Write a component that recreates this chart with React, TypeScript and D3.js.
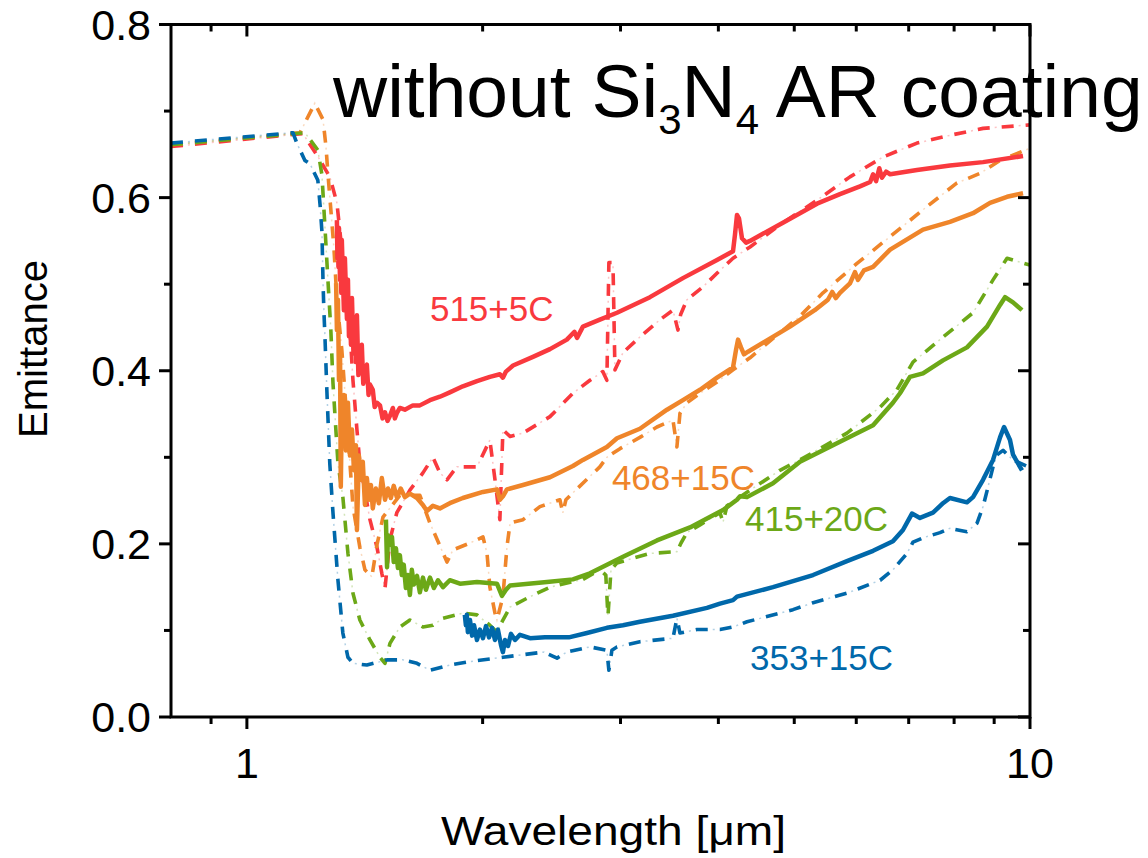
import React from "react";
import * as d3 from "d3";

type P = [number, number];

// ---- data (wavelength µm, emittance) ----
const redSim: P[] = [
  [0.8, 0.659], [1.179, 0.674], [1.229, 0.649], [1.276, 0.624], [1.303, 0.594], [1.322, 0.54],
  [1.342, 0.482], [1.354, 0.447], [1.366, 0.389], [1.382, 0.332], [1.394, 0.293], [1.436, 0.228],
  [1.466, 0.196], [1.487, 0.166], [1.501, 0.149], [1.523, 0.205], [1.554, 0.236], [1.615, 0.262],
  [1.678, 0.282], [1.728, 0.3], [1.764, 0.282], [1.801, 0.274], [1.854, 0.289], [1.967, 0.289],
  [2.043, 0.32], [2.074, 0.274], [2.104, 0.228], [2.123, 0.332], [2.168, 0.324], [2.252, 0.328],
  [2.438, 0.347], [2.608, 0.374], [2.742, 0.389], [2.848, 0.399], [2.882, 0.389], [2.899, 0.525],
  [2.934, 0.525], [2.951, 0.401], [3.022, 0.421], [3.176, 0.439], [3.369, 0.459], [3.5, 0.47],
  [3.552, 0.447], [3.58, 0.465], [3.647, 0.482], [3.823, 0.497], [4.019, 0.516], [4.176, 0.53],
  [4.39, 0.543], [4.836, 0.571], [5.346, 0.597], [5.89, 0.624], [6.493, 0.647], [7.173, 0.663],
  [7.903, 0.672], [8.71, 0.68], [10, 0.684],
];
const redMeas: P[] = [
  [1.303, 0.574], [1.305, 0.53], [1.307, 0.545], [1.309, 0.52], [1.311, 0.565], [1.315, 0.505],
  [1.318, 0.526], [1.32, 0.49], [1.322, 0.551], [1.326, 0.511], [1.33, 0.47], [1.334, 0.53],
  [1.338, 0.493], [1.342, 0.46], [1.346, 0.505], [1.35, 0.44], [1.354, 0.474], [1.358, 0.43],
  [1.362, 0.484], [1.368, 0.42], [1.374, 0.453], [1.378, 0.41], [1.382, 0.464], [1.388, 0.395],
  [1.394, 0.418], [1.402, 0.43], [1.408, 0.385], [1.415, 0.401], [1.423, 0.407], [1.43, 0.372],
  [1.436, 0.384], [1.448, 0.378], [1.456, 0.358], [1.466, 0.363], [1.479, 0.36], [1.49, 0.345],
  [1.501, 0.352], [1.512, 0.342], [1.523, 0.348], [1.536, 0.357], [1.545, 0.345], [1.554, 0.351],
  [1.568, 0.357], [1.591, 0.355], [1.629, 0.36], [1.663, 0.36], [1.713, 0.366], [1.764, 0.37],
  [1.816, 0.375], [1.887, 0.382], [1.967, 0.388], [2.043, 0.393], [2.104, 0.396], [2.123, 0.392],
  [2.142, 0.399], [2.187, 0.406], [2.319, 0.416], [2.438, 0.425], [2.562, 0.436], [2.62, 0.445],
  [2.64, 0.438], [2.686, 0.451], [2.823, 0.459], [2.969, 0.467], [3.271, 0.485], [3.604, 0.507],
  [3.984, 0.528], [4.176, 0.538], [4.2, 0.557], [4.225, 0.58], [4.25, 0.576], [4.288, 0.553],
  [4.34, 0.548], [4.39, 0.55], [4.836, 0.571], [5.346, 0.593], [5.719, 0.604], [6.066, 0.613],
  [6.25, 0.618], [6.304, 0.627], [6.36, 0.619], [6.42, 0.634], [6.47, 0.623], [6.55, 0.63],
  [6.628, 0.627], [7.173, 0.632], [7.903, 0.637], [8.71, 0.641], [9.797, 0.648],
];

const orangeSim: P[] = [
  [0.8, 0.661], [1.169, 0.675], [1.221, 0.709], [1.251, 0.69], [1.262, 0.658], [1.269, 0.628],
  [1.276, 0.601], [1.284, 0.571], [1.292, 0.54], [1.303, 0.482], [1.322, 0.424], [1.342, 0.343],
  [1.366, 0.243], [1.394, 0.196], [1.415, 0.17], [1.444, 0.162], [1.466, 0.199], [1.492, 0.231],
  [1.568, 0.256], [1.663, 0.256], [1.713, 0.224], [1.801, 0.179], [1.833, 0.193], [1.927, 0.201],
  [2.002, 0.208], [2.026, 0.189], [2.043, 0.15], [2.074, 0.12], [2.086, 0.112], [2.123, 0.139],
  [2.148, 0.196], [2.168, 0.224], [2.252, 0.228], [2.367, 0.243], [2.51, 0.251], [2.532, 0.236],
  [2.555, 0.251], [2.608, 0.259], [2.823, 0.289], [2.882, 0.3], [2.995, 0.31], [3.176, 0.323],
  [3.339, 0.335], [3.5, 0.343], [3.541, 0.312], [3.573, 0.351], [3.647, 0.363], [3.79, 0.374],
  [3.984, 0.387], [4.176, 0.401], [4.39, 0.415], [4.794, 0.444], [5.085, 0.463], [5.441, 0.49],
  [6.013, 0.524], [6.628, 0.555], [7.301, 0.586], [8.068, 0.617], [8.634, 0.628], [9.157, 0.643],
  [10, 0.657],
];
const orangeMeas: P[] = [
  [1.3, 0.501], [1.303, 0.447], [1.307, 0.482], [1.311, 0.389], [1.315, 0.424], [1.318, 0.266],
  [1.322, 0.355], [1.326, 0.32], [1.33, 0.372], [1.338, 0.308], [1.346, 0.363], [1.354, 0.302],
  [1.362, 0.332], [1.37, 0.285], [1.378, 0.314], [1.382, 0.216], [1.39, 0.302], [1.398, 0.274],
  [1.406, 0.295], [1.415, 0.245], [1.423, 0.276], [1.432, 0.251], [1.44, 0.268], [1.448, 0.241],
  [1.461, 0.264], [1.474, 0.247], [1.487, 0.276], [1.501, 0.251], [1.514, 0.264], [1.527, 0.253],
  [1.54, 0.267], [1.554, 0.254], [1.572, 0.264], [1.591, 0.254], [1.615, 0.258], [1.649, 0.253],
  [1.678, 0.245], [1.698, 0.238], [1.728, 0.244], [1.764, 0.241], [1.816, 0.247], [1.887, 0.253],
  [2.002, 0.26], [2.086, 0.263], [2.104, 0.251], [2.123, 0.255], [2.148, 0.263], [2.252, 0.268],
  [2.438, 0.277], [2.608, 0.29], [2.686, 0.297], [2.882, 0.312], [2.969, 0.322], [3.176, 0.333],
  [3.439, 0.355], [3.604, 0.366], [3.79, 0.378], [3.984, 0.392], [4.176, 0.404], [4.213, 0.424],
  [4.238, 0.436], [4.275, 0.427], [4.313, 0.419], [4.364, 0.422], [4.937, 0.451], [5.31, 0.47],
  [5.52, 0.482], [5.59, 0.491], [5.65, 0.484], [5.719, 0.49], [5.89, 0.501], [5.977, 0.514],
  [6.03, 0.505], [6.137, 0.516], [6.304, 0.52], [6.628, 0.54], [7.301, 0.563], [7.903, 0.572],
  [8.458, 0.582], [8.891, 0.594], [9.347, 0.601], [9.797, 0.605],
];

const greenSim: P[] = [
  [0.8, 0.661], [1.186, 0.675], [1.232, 0.655], [1.247, 0.626], [1.258, 0.566], [1.269, 0.505],
  [1.28, 0.447], [1.288, 0.386], [1.307, 0.293], [1.326, 0.254], [1.346, 0.189], [1.366, 0.143],
  [1.394, 0.112], [1.436, 0.089], [1.479, 0.069], [1.501, 0.062], [1.523, 0.085], [1.568, 0.104],
  [1.615, 0.112], [1.678, 0.104], [1.728, 0.106], [1.78, 0.114], [1.887, 0.12], [1.967, 0.118],
  [2.043, 0.106], [2.086, 0.098], [2.123, 0.112], [2.168, 0.127], [2.299, 0.139], [2.438, 0.15],
  [2.686, 0.159], [2.823, 0.17], [2.873, 0.164], [2.891, 0.116], [2.917, 0.17], [2.969, 0.178],
  [3.271, 0.189], [3.541, 0.191], [3.584, 0.201], [3.647, 0.213], [3.79, 0.222], [4.019, 0.236],
  [4.055, 0.225], [4.103, 0.244], [4.39, 0.262], [4.794, 0.285], [5.085, 0.297], [5.838, 0.328],
  [6.436, 0.358], [6.762, 0.378], [7.089, 0.41], [7.675, 0.436], [8.458, 0.467], [8.97, 0.505],
  [9.347, 0.53], [10, 0.522],
];
const greenMeas: P[] = [
  [1.505, 0.228], [1.51, 0.173], [1.514, 0.21], [1.523, 0.199], [1.532, 0.208], [1.54, 0.179],
  [1.55, 0.195], [1.559, 0.172], [1.568, 0.187], [1.577, 0.164], [1.586, 0.176], [1.596, 0.149],
  [1.605, 0.164], [1.615, 0.141], [1.624, 0.17], [1.634, 0.153], [1.649, 0.163], [1.663, 0.144],
  [1.678, 0.161], [1.693, 0.147], [1.713, 0.161], [1.733, 0.149], [1.754, 0.158], [1.78, 0.15],
  [1.816, 0.158], [1.871, 0.154], [1.967, 0.156], [2.086, 0.154], [2.117, 0.14], [2.142, 0.147],
  [2.168, 0.152], [2.416, 0.156], [2.608, 0.159], [2.742, 0.166], [3.022, 0.185], [3.339, 0.204],
  [3.68, 0.219], [4.055, 0.239], [4.225, 0.251], [4.263, 0.255], [4.351, 0.254], [4.697, 0.27],
  [5.085, 0.295], [5.838, 0.322], [6.304, 0.337], [6.683, 0.363], [6.823, 0.374], [7.026, 0.393],
  [7.301, 0.397], [7.743, 0.412], [8.309, 0.427], [8.813, 0.451], [9.157, 0.476], [9.292, 0.485],
  [9.513, 0.479], [9.768, 0.47],
];

const blueSim: P[] = [
  [0.8, 0.663], [1.145, 0.675], [1.158, 0.663], [1.186, 0.643], [1.204, 0.639], [1.232, 0.62],
  [1.24, 0.592], [1.247, 0.56], [1.251, 0.501], [1.254, 0.47], [1.258, 0.439], [1.265, 0.378],
  [1.276, 0.293], [1.288, 0.236], [1.307, 0.158], [1.326, 0.097], [1.346, 0.069], [1.366, 0.062],
  [1.423, 0.06], [1.51, 0.066], [1.582, 0.066], [1.649, 0.062], [1.713, 0.054], [1.816, 0.06],
  [1.927, 0.064], [2.123, 0.069], [2.252, 0.072], [2.395, 0.075], [2.489, 0.068], [2.562, 0.075],
  [2.742, 0.081], [2.882, 0.077], [2.899, 0.054], [2.925, 0.077], [2.969, 0.081], [3.176, 0.087],
  [3.5, 0.091], [3.541, 0.114], [3.573, 0.097], [3.756, 0.101], [4.019, 0.101], [4.176, 0.104],
  [4.351, 0.11], [4.614, 0.116], [4.981, 0.124], [5.284, 0.132], [5.838, 0.143], [6.436, 0.158],
  [6.683, 0.17], [6.965, 0.189], [7.089, 0.202], [7.301, 0.207], [7.675, 0.213], [7.903, 0.218],
  [8.309, 0.214], [8.558, 0.224], [8.71, 0.243], [8.84, 0.266], [8.97, 0.289], [9.077, 0.303],
  [9.238, 0.308], [9.513, 0.297], [10, 0.288],
];
const blueMeas: P[] = [
  [1.898, 0.118], [1.904, 0.106], [1.909, 0.118], [1.915, 0.098], [1.927, 0.112], [1.939, 0.094],
  [1.95, 0.106], [1.967, 0.089], [1.984, 0.101], [2.002, 0.091], [2.02, 0.105], [2.038, 0.092],
  [2.056, 0.103], [2.074, 0.089], [2.092, 0.101], [2.111, 0.083], [2.123, 0.075], [2.136, 0.089],
  [2.155, 0.082], [2.174, 0.096], [2.2, 0.089], [2.232, 0.095], [2.299, 0.091], [2.402, 0.092],
  [2.577, 0.092], [2.718, 0.097], [2.882, 0.103], [3.022, 0.106], [3.176, 0.11], [3.5, 0.117],
  [3.868, 0.126], [4.019, 0.131], [4.176, 0.135], [4.225, 0.139], [4.697, 0.15], [5.284, 0.164],
  [5.838, 0.18], [6.304, 0.192], [6.683, 0.203], [6.883, 0.216], [7.068, 0.235], [7.236, 0.23],
  [7.518, 0.236], [7.743, 0.247], [7.903, 0.253], [8.309, 0.248], [8.458, 0.254], [8.71, 0.274],
  [8.97, 0.297], [9.157, 0.323], [9.265, 0.335], [9.429, 0.32], [9.513, 0.303], [9.768, 0.285],
];

const xMajorTicks = [1, 10];
const xMinorTicks = [0.9, 2, 3, 4, 5, 6, 7, 8, 9];
const yMajorTicks = [0, 0.2, 0.4, 0.6, 0.8];
const yMinorTicks = [0.1, 0.3, 0.5, 0.7];

const labels = [
  { text: "515+5C", color: "#F9393E", x: 1.713, y: 0.457 },
  { text: "468+15C", color: "#EF852A", x: 2.925, y: 0.262 },
  { text: "415+20C", color: "#6CA817", x: 4.326, y: 0.215 },
  { text: "353+15C", color: "#0068AA", x: 4.39, y: 0.054 },
];

const series = [
  { sim: redSim, meas: redMeas, color: "#F9393E" },
  { sim: orangeSim, meas: orangeMeas, color: "#EF852A" },
  { sim: greenSim, meas: greenMeas, color: "#6CA817" },
  { sim: blueSim, meas: blueMeas, color: "#0068AA" },
];

const FONT = "'Liberation Sans', Arial, sans-serif";

export default function App() {
  const left = 171, right = 1030, top = 24.5, bottom = 717;
  const x = d3.scaleLog().domain([0.8, 10]).range([left, right]);
  const y = d3.scaleLinear().domain([0, 0.8]).range([bottom, top]);
  const line = d3
    .line<P>()
    .x((d) => x(d[0]))
    .y((d) => y(d[1]));

  const fmt = d3.format(".1f");

  return (
    <div style={{ position: "absolute", left: 0, top: 0 }}>
      <svg width={1148} height={858} style={{ display: "block", background: "#fff" }} fontFamily={FONT}>
        <defs>
          <clipPath id="plotclip">
            <rect x={left} y={0} width={right - left} height={bottom} />
          </clipPath>
        </defs>
        <g clipPath="url(#plotclip)">
          {series.map((s, i) => (
            <g key={"sim" + i}>
              <path d={line(s.sim) || ""} fill="none" stroke={s.color} strokeWidth={3.6}
                strokeDasharray="12 12" strokeLinejoin="round" />
              <path d={line(s.sim) || ""} fill="none" stroke={s.color} strokeWidth={1.5}
                strokeOpacity={0.3} strokeDasharray="2 22" strokeDashoffset={-17} />
            </g>
          ))}
          {series.map((s, i) => (
            <path key={"meas" + i} d={line(s.meas) || ""} fill="none" stroke={s.color}
              strokeWidth={4.5} strokeLinejoin="round" />
          ))}
        </g>

        {/* frame */}
        <rect x={left} y={top} width={right - left} height={bottom - top} fill="none" stroke="#000" strokeWidth={3} />

        {/* x ticks */}
        {xMajorTicks.map((t) => (
          <g key={"xM" + t}>
            <line x1={x(t)} x2={x(t)} y1={bottom} y2={bottom + 12} stroke="#000" strokeWidth={3} />
            <line x1={x(t)} x2={x(t)} y1={top} y2={top + 12} stroke="#000" strokeWidth={3} />
            <text x={x(t)} y={778} textAnchor="middle" fontSize={43}>{t}</text>
          </g>
        ))}
        {xMinorTicks.map((t) => (
          <g key={"xm" + t}>
            <line x1={x(t)} x2={x(t)} y1={bottom} y2={bottom + 7} stroke="#000" strokeWidth={3} />
            <line x1={x(t)} x2={x(t)} y1={top} y2={top + 7} stroke="#000" strokeWidth={3} />
          </g>
        ))}

        {/* y ticks */}
        {yMajorTicks.map((t) => (
          <g key={"yM" + t}>
            <line x1={left - 12} x2={left} y1={y(t)} y2={y(t)} stroke="#000" strokeWidth={3} />
            <line x1={right - 12} x2={right} y1={y(t)} y2={y(t)} stroke="#000" strokeWidth={3} />
            <text x={151} y={y(t)} dy="0.36em" textAnchor="end" fontSize={43}>{fmt(t)}</text>
          </g>
        ))}
        {yMinorTicks.map((t) => (
          <g key={"ym" + t}>
            <line x1={left - 7} x2={left} y1={y(t)} y2={y(t)} stroke="#000" strokeWidth={3} />
            <line x1={right - 7} x2={right} y1={y(t)} y2={y(t)} stroke="#000" strokeWidth={3} />
          </g>
        ))}

        {/* axis titles */}
        <text transform="translate(47,349) rotate(-90)" textAnchor="middle" fontSize={40}>Emittance</text>
        <text x={441} y={845} fontSize={40} textLength={345} lengthAdjust="spacingAndGlyphs">Wavelength [μm]</text>

        {/* series labels */}
        {labels.map((l) => (
          <text key={l.text} x={x(l.x)} y={y(l.y)} fill={l.color} fontSize={35}>{l.text}</text>
        ))}

        {/* title */}
        <text x={333} y={117} fontSize={75}>
          without Si<tspan fontSize={42} dy={17}>3</tspan>
          <tspan dy={-17}>N</tspan>
          <tspan fontSize={42} dy={17}>4</tspan>
          <tspan dy={-17}> AR coating</tspan>
        </text>
      </svg>
    </div>
  );
}
